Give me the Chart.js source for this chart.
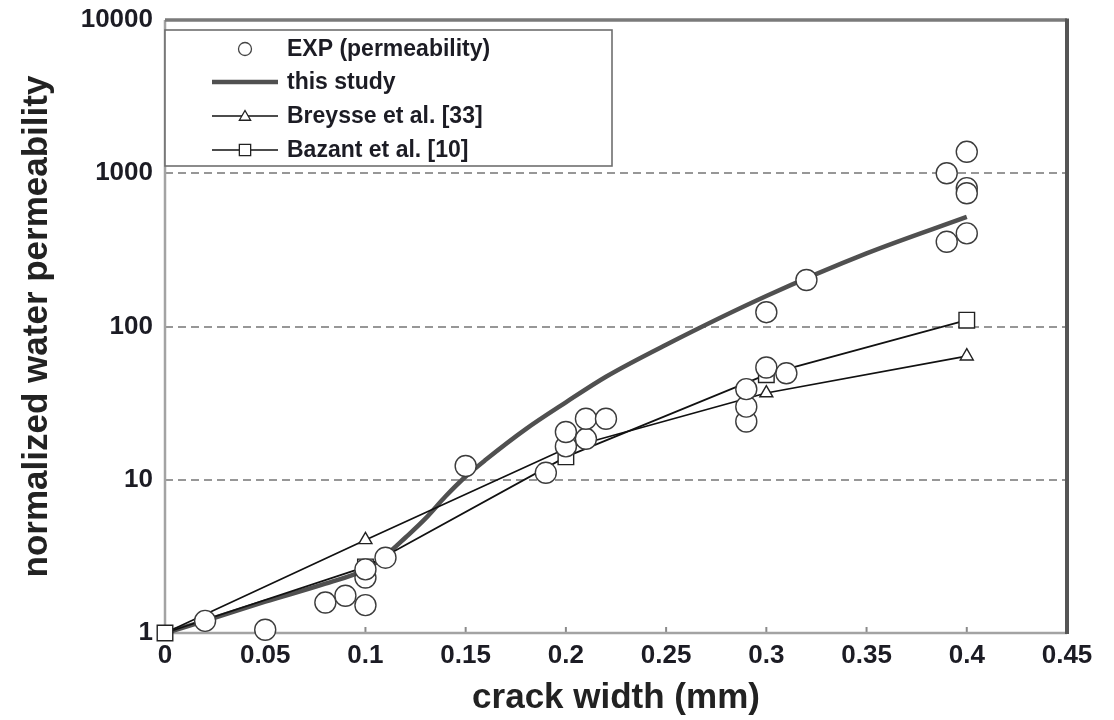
<!DOCTYPE html>
<html>
<head>
<meta charset="utf-8">
<script src="https://cdn.jsdelivr.net/npm/chart.js@4.4.1/dist/chart.umd.min.js"></script>
<style>html,body{margin:0;padding:0;background:#fff;}canvas{display:block;}</style>
</head>
<body>
<canvas id="c" width="1114" height="720"></canvas>
<script>
// ---- data ----
const seriesNames = ['EXP (permeability)', 'this study', 'Breysse et al. [33]', 'Bazant et al. [10]'];
const xTickValues = [0, 0.05, 0.1, 0.15, 0.2, 0.25, 0.3, 0.35, 0.4, 0.45];
const xTickLabels = ['0', '0.05', '0.1', '0.15', '0.2', '0.25', '0.3', '0.35', '0.4', '0.45'];
const yTickValues = [1, 10, 100, 1000, 10000];
const yTickLabels = ['1', '10', '100', '1000', '10000'];

const expX = [0.02, 0.05, 0.08, 0.09, 0.10, 0.10, 0.10, 0.11, 0.15, 0.19, 0.20, 0.20, 0.21, 0.21, 0.22, 0.29, 0.29, 0.29, 0.30, 0.30, 0.31, 0.32, 0.39, 0.39, 0.40, 0.40, 0.40, 0.40];
const expY = [1.2, 1.05, 1.58, 1.75, 1.52, 2.3, 2.6, 3.1, 12.3, 11.1, 16.5, 20.5, 18.5, 25, 25, 24, 30, 39, 54, 124, 49.5, 201, 357, 1000, 1380, 800, 740, 405];

const studyX = [0, 0.02, 0.05, 0.08, 0.10, 0.11, 0.12, 0.13, 0.14, 0.15, 0.16, 0.18, 0.20, 0.22, 0.25, 0.30, 0.35, 0.40];
const studyY = [1, 1.2, 1.6, 2.1, 2.6, 3.2, 4.2, 5.6, 7.8, 10.5, 13.5, 21.4, 32, 47, 76, 158, 300, 519];

const breysseX = [0, 0.1, 0.2, 0.3, 0.4];
const breysseY = [1, 4.05, 16, 36.8, 64];

const bazantX = [0, 0.1, 0.2, 0.3, 0.4];
const bazantY = [1, 2.7, 14.1, 48.5, 110];

// ---- chart ----
const FONT = '"Liberation Sans", Arial, Helvetica, sans-serif';
const TEXT = '#1c1c24';
const pts = (xs, ys) => xs.map((x, i) => ({ x: x, y: ys[i] }));

const framePlugin = {
  id: 'frame',
  beforeDatasetsDraw(chart) {
    const { ctx, chartArea: a, scales } = chart;
    const sx = scales.x;
    ctx.save();
    ctx.lineCap = 'butt';
    ctx.strokeStyle = '#8a8a8a';
    ctx.lineWidth = 2;
    xTickValues.forEach(v => {
      const px = sx.getPixelForValue(v);
      if (px > a.left + 1 && px < a.right - 1) {
        ctx.beginPath(); ctx.moveTo(px, a.bottom); ctx.lineTo(px, a.bottom - 6); ctx.stroke();
      }
    });
    ctx.strokeStyle = '#a3a3a3';
    ctx.lineWidth = 2.5;
    ctx.beginPath(); ctx.moveTo(a.left, a.top); ctx.lineTo(a.left, a.bottom); ctx.lineTo(a.right, a.bottom); ctx.stroke();
    ctx.strokeStyle = '#7a7a7a';
    ctx.lineWidth = 3.5;
    ctx.beginPath(); ctx.moveTo(a.left, a.top); ctx.lineTo(a.right, a.top); ctx.stroke();
    ctx.strokeStyle = '#555';
    ctx.lineWidth = 4;
    ctx.beginPath(); ctx.moveTo(a.right, a.top - 1.5); ctx.lineTo(a.right, a.bottom + 1); ctx.stroke();
    ctx.restore();
  }
};

const legendPlugin = {
  id: 'boxLegend',
  afterDraw(chart) {
    const { ctx, chartArea: a } = chart;
    const bx = a.left, by = a.top + 10, bw = 447, bh = 136;
    ctx.save();
    ctx.fillStyle = '#fff';
    ctx.fillRect(bx, by, bw, bh);
    ctx.strokeStyle = '#6e6e6e';
    ctx.lineWidth = 1.6;
    ctx.strokeRect(bx, by, bw, bh);
    const mx = bx + 80, l0 = bx + 47, l1 = bx + 113, tx = bx + 122;
    const rows = [by + 19, by + 52, by + 86, by + 120];
    ctx.font = 'bold 23px ' + FONT;
    ctx.fillStyle = TEXT;
    ctx.textBaseline = 'middle';
    ctx.textAlign = 'left';
    seriesNames.forEach((n, i) => ctx.fillText(n, tx, rows[i] + 1));
    ctx.lineWidth = 1.3; ctx.strokeStyle = '#444'; ctx.fillStyle = '#fff';
    Chart.helpers.drawPoint(ctx, { pointStyle: 'circle', radius: 6.5, rotation: 0, borderWidth: 1.3 }, mx, rows[0]);
    ctx.strokeStyle = '#505050'; ctx.lineWidth = 4.5;
    ctx.beginPath(); ctx.moveTo(l0, rows[1]); ctx.lineTo(l1, rows[1]); ctx.stroke();
    ctx.strokeStyle = '#111'; ctx.lineWidth = 1.6;
    ctx.beginPath(); ctx.moveTo(l0, rows[2]); ctx.lineTo(l1, rows[2]); ctx.stroke();
    ctx.strokeStyle = '#222'; ctx.lineWidth = 1.3; ctx.fillStyle = '#fff';
    Chart.helpers.drawPoint(ctx, { pointStyle: 'triangle', radius: 6.5, rotation: 0, borderWidth: 1.3 }, mx, rows[2] + 1);
    ctx.strokeStyle = '#111'; ctx.lineWidth = 1.6;
    ctx.beginPath(); ctx.moveTo(l0, rows[3]); ctx.lineTo(l1, rows[3]); ctx.stroke();
    ctx.strokeStyle = '#222'; ctx.lineWidth = 1.3; ctx.fillStyle = '#fff';
    Chart.helpers.drawPoint(ctx, { pointStyle: 'rect', radius: 8, rotation: 0, borderWidth: 1.3 }, mx, rows[3]);
    ctx.restore();
  }
};

new Chart(document.getElementById('c').getContext('2d'), {
  type: 'line',
  data: {
    datasets: [
      {
        label: seriesNames[0], data: pts(expX, expY), showLine: false,
        pointStyle: 'circle', pointRadius: 10.5, pointBackgroundColor: '#fff',
        pointBorderColor: '#3c3c3c', pointBorderWidth: 1.4, order: 0, clip: false
      },
      {
        label: seriesNames[3], data: pts(bazantX, bazantY),
        borderColor: '#111', borderWidth: 1.7, pointStyle: 'rect', pointRadius: 11,
        pointBackgroundColor: '#fff', pointBorderColor: '#222', pointBorderWidth: 1.4, order: 1, clip: false
      },
      {
        label: seriesNames[2], data: pts(breysseX, breysseY),
        borderColor: '#111', borderWidth: 1.7, pointStyle: 'triangle',
        pointRadius: [0, 7.5, 0, 7.5, 7.5],
        pointBackgroundColor: '#fff', pointBorderColor: '#222', pointBorderWidth: 1.4, order: 2, clip: false
      },
      {
        label: seriesNames[1], data: pts(studyX, studyY),
        borderColor: '#505050', borderWidth: 4.5, pointRadius: 0,
        cubicInterpolationMode: 'monotone', order: 3, clip: false
      }
    ]
  },
  options: {
    responsive: false,
    animation: false,
    events: [],
    layout: { padding: { top: 20, right: 47, bottom: 0, left: 0 } },
    plugins: { legend: { display: false }, tooltip: { enabled: false } },
    scales: {
      x: {
        type: 'linear', min: 0, max: 0.45,
        afterBuildTicks: s => { s.ticks = xTickValues.map(v => ({ value: v })); },
        afterFit: s => { s.height = 87; s.paddingLeft = 0; s.paddingRight = 0; },
        ticks: {
          autoSkip: false, maxRotation: 0, padding: 7, color: TEXT,
          font: { family: FONT, size: 26, weight: 'bold', lineHeight: 1.2 },
          callback: (v, i) => xTickLabels[i]
        },
        grid: { display: false, drawTicks: false },
        border: { display: false },
        title: {
          display: true, text: 'crack width (mm)', color: '#222',
          font: { family: FONT, size: 35, weight: 'bold', lineHeight: 1 },
          padding: { top: 0, bottom: 4.5 }
        }
      },
      y: {
        type: 'logarithmic', min: 1, max: 10000,
        afterBuildTicks: s => { s.ticks = yTickValues.map(v => ({ value: v })); },
        afterFit: s => { s.width = 165; s.paddingTop = 0; s.paddingBottom = 0; },
        ticks: {
          autoSkip: false, padding: 12, color: TEXT,
          font: { family: FONT, size: 26, weight: 'bold', lineHeight: 1.2 },
          callback: (v, i) => yTickLabels[i]
        },
        grid: {
          drawTicks: false, lineWidth: 2,
          color: c => (c.tick && c.tick.value > 1 && c.tick.value < 10000) ? '#979797' : 'rgba(0,0,0,0)'
        },
        border: { display: false, dash: [8, 5] },
        title: {
          display: true, text: 'normalized water permeability', color: '#222',
          font: { family: FONT, size: 35, weight: 'bold', lineHeight: 1 },
          padding: { top: 19.5, bottom: 0 }
        }
      }
    }
  },
  plugins: [framePlugin, legendPlugin]
});
</script>
</body>
</html>
